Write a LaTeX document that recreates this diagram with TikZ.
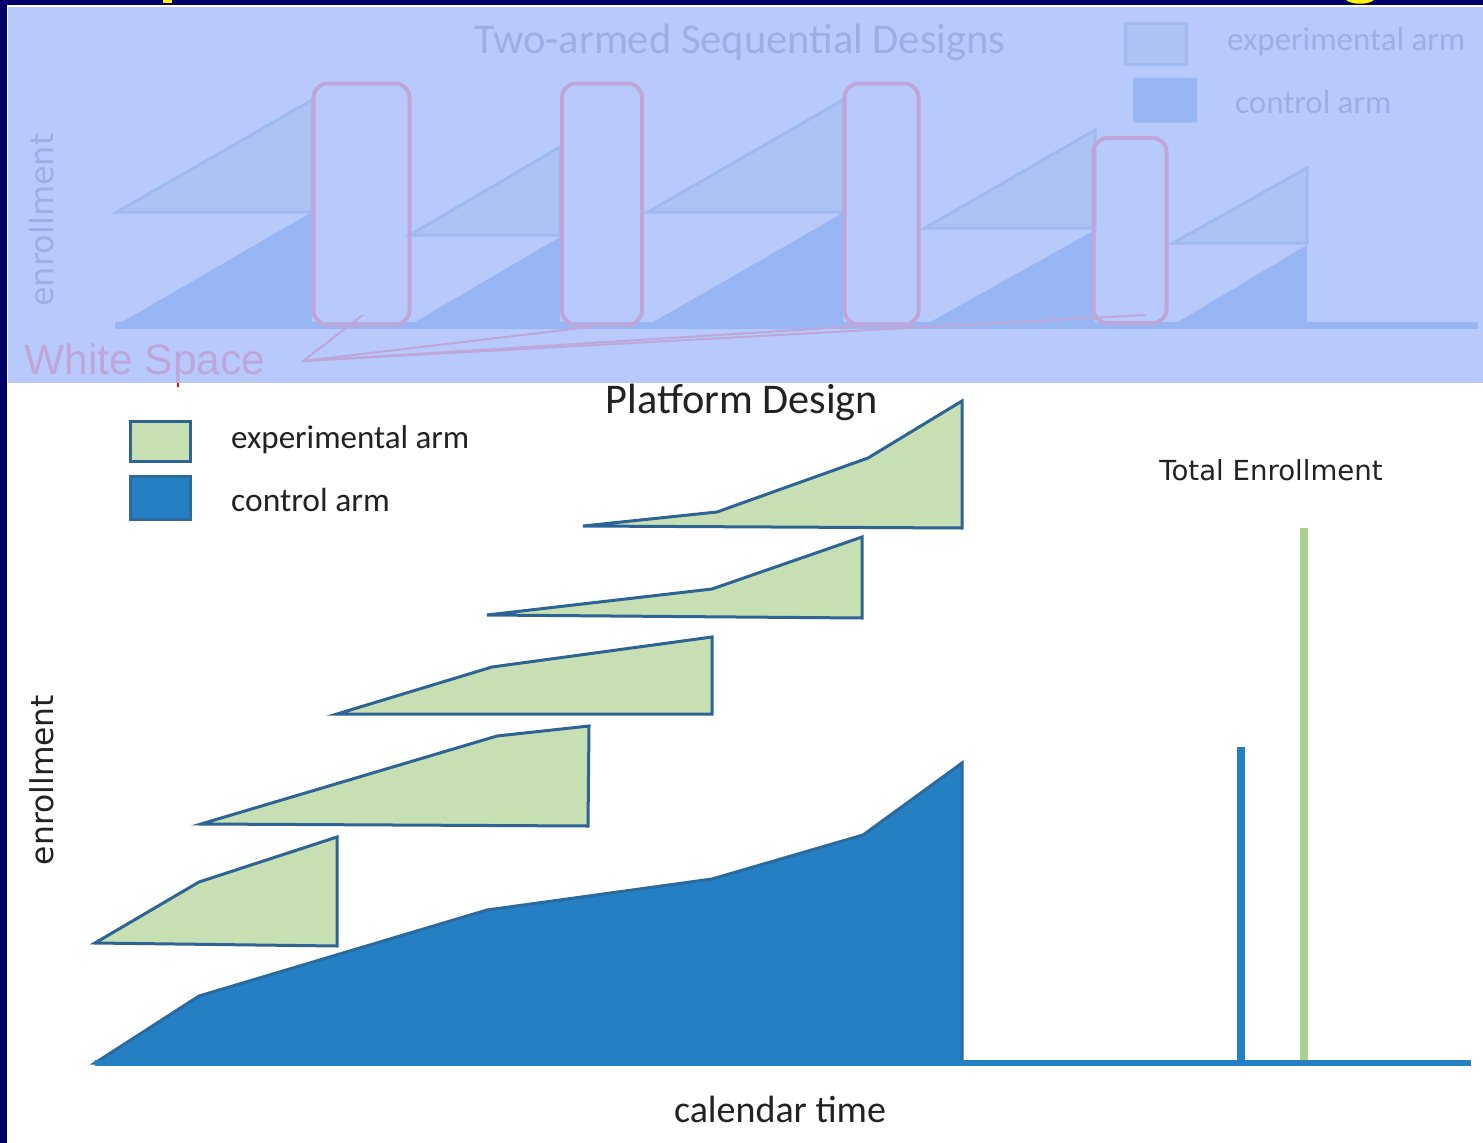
\documentclass[tikz,border=0pt]{standalone}
\usepackage{fontspec}
\setmainfont{Carlito}
\newfontfamily\verd{DejaVu Sans}
\newfontfamily\arialf{Liberation Sans}
\definecolor{navy}{HTML}{000066}
\definecolor{fadebg}{HTML}{B8CAFC}
\definecolor{fadetxt}{HTML}{9DADE6}
\definecolor{fadeexp}{HTML}{ADC3F3}
\definecolor{fadeexpl}{HTML}{A0B9F0}
\definecolor{fadectl}{HTML}{97B5F2}
\definecolor{pinkl}{HTML}{BFA6D8}
\definecolor{expfill}{HTML}{C6E0B4}
\definecolor{outl}{HTML}{2E6494}
\definecolor{ctl}{HTML}{2580C3}
\definecolor{ctlout}{HTML}{2A6A9E}
\definecolor{greenbar}{HTML}{A9D18E}
\definecolor{txt}{HTML}{222222}
\begin{document}
\begin{tikzpicture}[x=1pt,y=-1pt,
  fexp/.style={fill=fadeexp,draw=fadeexpl,line width=3pt,line join=miter},
  fctl/.style={fill=fadectl,draw=none},
  wsbox/.style={draw=pinkl,line width=4pt,rounded corners=14pt},
  wsline/.style={draw=pinkl,line width=2pt},
  exparm/.style={fill=expfill,draw=outl,line width=3pt,line join=miter},
  ctlarm/.style={fill=ctl,draw=ctlout,line width=3pt,line join=miter},
  lbl/.style={inner sep=0pt,text=txt}]
\useasboundingbox (0,0) rectangle (1483,1143);
% frame
\fill[white] (0,0) rectangle (1483,1143);
\fill[navy] (0,0) rectangle (1483,5);
\fill[navy] (0,0) rectangle (7,1143);
\fill[fadebg] (8,7) rectangle (1483,383);
% yellow fragments of cut title
\fill[yellow] (163,0) rectangle (172,3);
\fill[yellow] (1346,0) .. controls (1352,5) and (1368,5) .. (1374,0) -- cycle;
% ---------- faded top diagram ----------
\node[inner sep=0pt,text=fadetxt,font=\fontsize{42.5}{44}\selectfont] (ttl) at (740,42) {Two-armed Sequential Designs};
\node[fexp,minimum width=61pt,minimum height=41pt,inner sep=0pt] (fl1) at (1156,44) {};
\node[fctl,minimum width=64pt,minimum height=45pt,inner sep=0pt,rounded corners=2pt] (fl2) at (1165,100) {};
\node[inner sep=0pt,text=fadetxt,font=\fontsize{33}{35}\selectfont,anchor=west] (flt1) at (1227,42) {experimental arm};
\node[inner sep=0pt,text=fadetxt,font=\fontsize{33}{35}\selectfont,anchor=west] (flt2) at (1235,102) {control arm};
\node[inner sep=0pt,text=fadetxt,font=\verd\fontsize{32}{34}\selectfont,rotate=90] (fenr) at (42,220) {enrollment};
% sawtooth pairs
\fill[fadectl] (117,325) -- (312,212) -- (312,325) -- cycle;
\draw[fexp] (117,212) -- (312,100) -- (312,212) -- cycle;
\fill[fadectl] (410,325) -- (560,237) -- (560,325) -- cycle;
\draw[fexp] (410,235) -- (560,147) -- (560,235) -- cycle;
\fill[fadectl] (648,325) -- (843,213) -- (843,325) -- cycle;
\draw[fexp] (648,212) -- (843,100) -- (843,212) -- cycle;
\fill[fadectl] (925,325) -- (1095,230) -- (1095,325) -- cycle;
\draw[fexp] (925,228) -- (1095,130) -- (1095,228) -- cycle;
\fill[fadectl] (1173,325) -- (1307,245) -- (1307,325) -- cycle;
\draw[fexp] (1173,243) -- (1307,168) -- (1307,243) -- cycle;
\fill[fadectl] (115,322) rectangle (1478,329);
% white space boxes
\node[wsbox,minimum width=96pt,minimum height=241pt,inner sep=0pt] (w1) at (361.5,204) {};
\node[wsbox,minimum width=80pt,minimum height=241pt,inner sep=0pt] (w2) at (602,204) {};
\node[wsbox,minimum width=74pt,minimum height=241pt,inner sep=0pt] (w3) at (881.5,204) {};
\node[wsbox,minimum width=73pt,minimum height=185pt,inner sep=0pt] (w4) at (1130,230.5) {};
\node[inner sep=0pt,text=pinkl,font=\arialf\fontsize{42.5}{44}\selectfont] (wst) at (145,364) {White Space};
\coordinate (apex) at (303,361);
\coordinate (e1) at (363,315);
\coordinate (e2) at (590,327);
\coordinate (e3) at (862,326);
\coordinate (e4) at (1145,315);
\draw[wsline] (e1) -- (apex) -- (e2);
\draw[wsline] (apex) -- (e3);
\draw[wsline] (apex) -- (e4);
\draw[red,line width=2pt] (178,383) -- (178,387);
% ---------- platform design ----------
\node[lbl,font=\fontsize{42.3}{44}\selectfont] (pd) at (742,402) {Platform Design};
\node[exparm,minimum width=60pt,minimum height=40pt,inner sep=0pt] (lg1) at (160.5,441.5) {};
\node[ctlarm,minimum width=60pt,minimum height=43pt,inner sep=0pt] (lg2) at (160.5,498) {};
\node[lbl,font=\fontsize{33}{35}\selectfont,anchor=west] (lt1) at (231,440) {experimental arm};
\node[lbl,font=\fontsize{33.5}{35}\selectfont,anchor=west] (lt2) at (231,500) {control arm};
\node[lbl,font=\verd\fontsize{27.6}{29}\selectfont] (te) at (1271,470) {Total Enrollment};
\node[lbl,font=\verd\fontsize{31.4}{33}\selectfont,rotate=90] (enr) at (42,780) {enrollment};
\node[lbl,font=\fontsize{38}{40}\selectfont] (ct) at (780,1109) {calendar time};
% control arm area
\draw[ctlarm] (95,1063) -- (199,996) -- (487,910) -- (712,879) -- (863,835) -- (962,763) -- (962,1063) -- cycle;
% experimental arms
\draw[exparm] (583,526) -- (717,512) -- (868,458) -- (962,401) -- (962,528) -- cycle;
\draw[exparm] (487,615) -- (712,589) -- (862,537) -- (862,618) -- cycle;
\draw[exparm] (337,714) -- (492,667) -- (712,637) -- (712,714) -- cycle;
\draw[exparm] (201,824) -- (497,736) -- (589,726) -- (588,826) -- cycle;
\draw[exparm] (95,943) -- (199,882) -- (337,837) -- (337,946) -- cycle;
% baseline and total bars
\draw[ctl,line width=6pt] (95,1063) -- (1471,1063);
\draw[ctl,line width=8pt] (1241,1060) -- (1241,747);
\draw[greenbar,line width=8pt] (1304,1060) -- (1304,528);
\end{tikzpicture}
\end{document}
